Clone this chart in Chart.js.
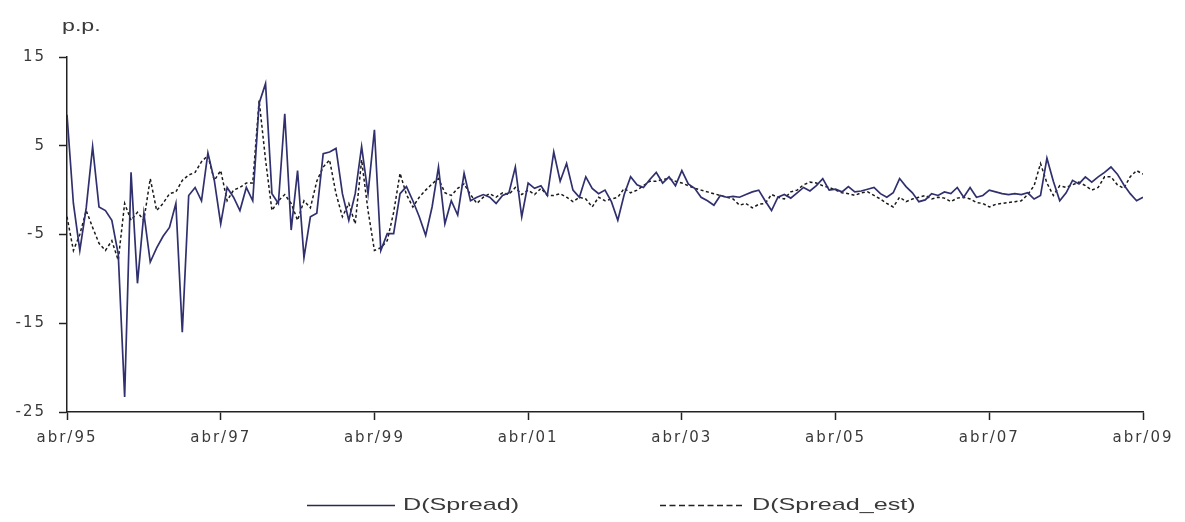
<!DOCTYPE html>
<html><head><meta charset="utf-8">
<script src="https://cdn.jsdelivr.net/npm/chart.js@4/dist/chart.umd.min.js"></script>
<style>
html,body{margin:0;padding:0;background:#fff;}
#wrap{position:relative;width:1185px;height:522px;overflow:hidden;background:#fff;}
#c{position:absolute;left:0;top:0;width:1185px;height:522px;}
.t{position:absolute;font-family:"Liberation Sans",Arial,sans-serif;color:#3a3a3a;white-space:nowrap;transform-origin:0 0;}
svg{position:absolute;left:0;top:0;}
</style></head><body>
<div id="wrap">
<canvas id="c" width="1185" height="522"></canvas>
<div class="t" style="left:62px;top:18px;font-size:16px;line-height:16px;transform:scaleX(1.45);">p.p.</div>
<svg width="1185" height="522">
<line x1="307" y1="505.5" x2="395" y2="505.5" stroke="#2a2a50" stroke-width="1.6"/>
<line x1="660" y1="505.5" x2="745" y2="505.5" stroke="#222" stroke-width="1.5" stroke-dasharray="6 3.5"/>
</svg>
<div class="t" style="left:403px;top:496px;font-size:17px;line-height:17px;transform:scaleX(1.48);">D(Spread)</div>
<div class="t" style="left:752px;top:496px;font-size:17px;line-height:17px;transform:scaleX(1.48);">D(Spread_est)</div>
</div>
<script>
// x tick labels (every 24 months, starting abr/95)
const tickLabels = ["abr/95","abr/97","abr/99","abr/01","abr/03","abr/05","abr/07","abr/09"];
const seriesNames = ["D(Spread)","D(Spread_est)"];
// monthly values, abr/95 .. abr/09 (169 points)
const spread = [
 8.5,-1.5,-6.8,-2.0,4.9,-1.9,-2.3,-3.4,-7.2,-23.3,
 2.0,-10.5,-2.6,-8.1,-6.5,-5.2,-4.2,-1.5,-16.0,-0.6,
 0.3,-1.2,4.2,1.1,-3.8,0.3,-0.8,-2.3,0.3,-1.2,
 9.8,12.0,-0.4,-1.5,8.6,-4.5,2.2,-7.6,-3.0,-2.6,
 4.1,4.3,4.7,-0.4,-3.4,-0.4,4.9,-0.4,6.8,-6.8,
 -4.9,-4.9,-0.4,0.4,-1.2,-3.0,-5.1,-1.9,2.6,-3.8,
 -1.2,-2.8,1.9,-1.2,-0.8,-0.5,-0.8,-1.5,-0.6,-0.3,
 2.6,-3.0,0.8,0.2,0.5,-0.6,4.3,1.0,3.0,0.0,
 -0.8,1.5,0.2,-0.4,0.0,-1.3,-3.4,-0.5,1.5,0.6,
 0.3,1.2,2.0,0.8,1.5,0.5,2.2,0.7,0.2,-0.8,
 -1.2,-1.7,-0.6,-0.8,-0.7,-0.8,-0.5,-0.2,0.0,-1.2,
 -2.3,-0.8,-0.5,-0.9,-0.3,0.3,-0.1,0.5,1.3,0.0,
 0.1,-0.2,0.4,-0.2,-0.1,0.1,0.3,-0.4,-0.8,-0.3,
 1.3,0.4,-0.3,-1.3,-1.1,-0.4,-0.6,-0.2,-0.4,0.3,
 -0.8,0.3,-0.8,-0.6,0.0,-0.2,-0.4,-0.5,-0.4,-0.5,
 -0.3,-1.0,-0.6,3.6,1.0,-1.2,-0.3,1.1,0.7,1.5,
 0.9,1.5,2.0,2.6,1.8,0.6,-0.4,-1.2,-0.8
];
const spreadEst = [
 -3.0,-6.8,-5.0,-2.3,-4.2,-6.0,-6.8,-5.7,-7.9,-1.5,
 -3.4,-2.5,-3.4,1.3,-2.3,-1.5,-0.4,-0.2,1.1,1.7,
 2.0,3.2,3.9,1.1,2.2,-1.2,0.0,0.3,0.8,0.8,
 10.1,3.4,-2.3,-1.2,-0.5,-1.5,-3.4,-1.2,-2.0,1.0,
 2.6,3.4,-0.4,-3.0,-1.5,-3.8,3.4,-2.3,-6.8,-6.5,
 -5.7,-2.5,1.9,-0.5,-1.9,-0.8,0.0,0.7,1.3,-0.3,
 -0.6,0.2,0.7,-0.5,-1.5,-0.8,-0.4,-0.8,-0.3,-0.5,
 0.3,-0.5,0.0,-0.5,0.2,-0.6,-0.6,-0.4,-0.8,-1.3,
 -0.8,-1.0,-1.9,-0.8,-1.2,-1.0,-0.8,0.2,-0.3,0.0,
 0.5,1.0,1.0,1.2,1.3,1.0,0.8,0.5,0.2,0.0,
 -0.2,-0.4,-0.6,-0.8,-1.0,-1.7,-1.5,-2.0,-1.6,-1.5,
 -0.5,-0.8,-1.0,-0.2,0.0,0.6,0.9,0.8,0.5,0.3,
 0.0,-0.3,-0.4,-0.6,-0.3,-0.2,-0.6,-1.0,-1.5,-1.9,
 -0.8,-1.3,-1.0,-0.8,-0.6,-1.0,-0.8,-0.9,-1.3,-0.9,
 -0.8,-1.0,-1.4,-1.5,-1.9,-1.6,-1.5,-1.4,-1.3,-1.2,
 -0.5,0.5,3.0,0.8,-0.6,0.5,0.3,0.6,0.9,0.5,
 0.0,0.3,1.5,1.5,0.6,0.2,1.5,2.2,1.8
];

const LS = '2px';
const spacingPlugin = {
  id: 'spacing',
  beforeUpdate(c){ c.ctx.letterSpacing = LS; },
  beforeDraw(c){ c.ctx.letterSpacing = LS; }
};
const tickFont = {family: '"DejaVu Sans", sans-serif', size: 15};
new Chart(document.getElementById('c'), {
  type: 'line',
  data: {
    datasets: [
      {label: seriesNames[0], data: spread.map((v,i)=>({x:i,y:v})), borderColor: '#30306e', borderWidth: 1.7, pointRadius: 0, tension: 0, fill: false},
      {label: seriesNames[1], data: spreadEst.map((v,i)=>({x:i,y:v})), borderColor: '#1a1a1a', borderWidth: 1.5, borderDash: [3,2.5], pointRadius: 0, tension: 0, fill: false}
    ]
  },
  options: {
    responsive: false, animation: false, devicePixelRatio: 1,
    layout: {padding: {left: 0, right: 42, top: 57, bottom: 70}},
    plugins: {legend: {display: false}, tooltip: {enabled: false}},
    scales: {
      x: {
        type: 'linear', min: 0, max: 168,
        afterFit(s){ s.height = 40; },
        grid: {drawOnChartArea: false, drawTicks: true, tickLength: 8, tickColor: '#222', tickWidth: 1.5},
        border: {display: true, color: '#222', width: 1.5},
        ticks: {stepSize: 24, autoSkip: false, maxRotation: 0, padding: 9, color: '#3a3a3a', font: tickFont,
          callback: (v) => tickLabels[Math.round(v/24)]}
      },
      y: {
        min: -25, max: 15,
        afterFit(s){ s.width = 67; },
        grid: {drawOnChartArea: false, drawTicks: true, tickLength: 8, tickColor: '#222', tickWidth: 1.5},
        border: {display: true, color: '#222', width: 1.5},
        ticks: {stepSize: 10, padding: 13, color: '#3a3a3a', font: tickFont}
      }
    }
  },
  plugins: [spacingPlugin]
});
</script>
</body></html>
